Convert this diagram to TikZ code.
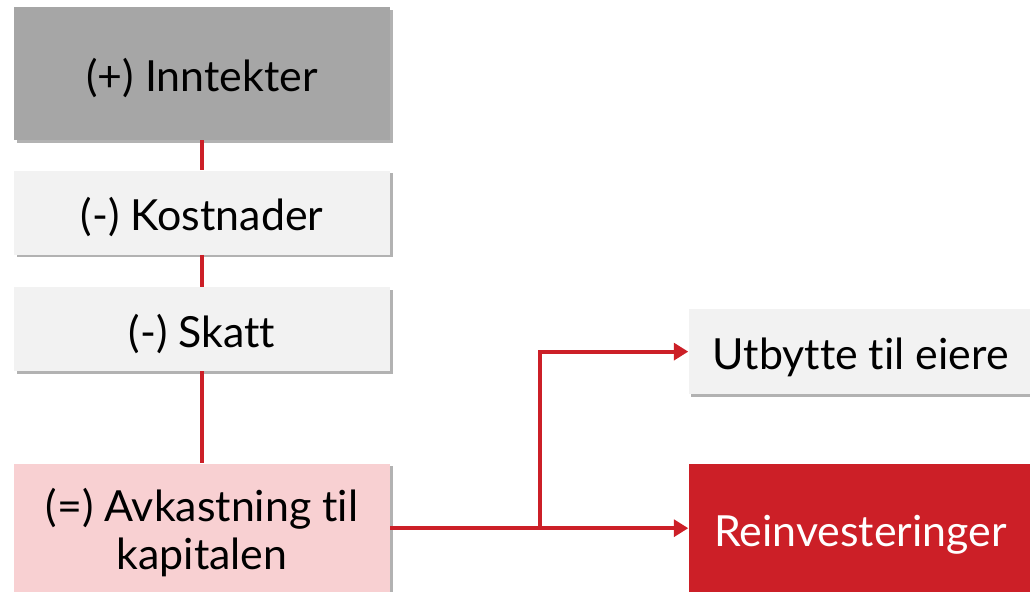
\documentclass[tikz,border=0pt]{standalone}
\usepackage{fontspec}
\setmainfont{Lato}[Ligatures={NoCommon}]
\usetikzlibrary{positioning,shadows,arrows.meta}

\definecolor{boxgray}{HTML}{A6A6A6}
\definecolor{boxlight}{HTML}{F2F2F2}
\definecolor{boxpink}{HTML}{F8D0D2}
\definecolor{linered}{HTML}{CC1F27}

\begin{document}
\begin{tikzpicture}[
    box/.style={rectangle, minimum width=9.4cm, minimum height=2.1cm, text centered, inner sep=0pt,
        font=\fontsize{30.5}{34}\selectfont,
        drop shadow={shadow xshift=0.07cm, shadow yshift=-0.07cm, fill=black, opacity=0.3}},
    line/.style={text height=33.2pt, text depth=7.6pt},
    total/.style={box, line, fill=boxgray, minimum height=3.325cm},
    item/.style={box, line, fill=boxlight},
    result/.style={box, fill=boxpink, minimum height=3.225cm, align=center},
    payout/.style={box, line, fill=boxlight, minimum width=8.6cm, minimum height=2.125cm},
    reinvest/.style={box, line, fill=linered, text=white, minimum width=8.6cm, minimum height=3.225cm},
    link/.style={draw=linered, line width=2.8pt},
    flow/.style={link, -{Triangle[length=0.36cm, width=0.42cm]}}]

\useasboundingbox (0,0) rectangle (25.75,-14.775);
\clip (0,0) rectangle (25.75,-14.775);

% Left column
\node[total] (inntekter) at (5.05,-1.8375) {(+) Inntekter};
\node[item, below=0.75cm of inntekter] (kostnader) {(-) Kostnader};
\node[item, below=0.8cm of kostnader] (skatt) {(-) Skatt};
\node[result, below=2.3cm of skatt] (avkastning) {\rule{0pt}{30pt}(=) Avkastning til\\kapitalen};

% Right column
\node[reinvest, right=7.45cm of avkastning] (reinvest) {Reinvesteringer};
\node[payout, above=1.725cm of reinvest] (utbytte) {Utbytte til eiere};
\coordinate (split) at ([xshift=3.75cm]avkastning.east);

% Connectors
\draw[link] (inntekter) -- (kostnader);
\draw[link] (kostnader) -- (skatt);
\draw[link] (skatt) -- (avkastning);
\draw[link] (avkastning.east) -- (split);
\draw[flow] (split) |- (utbytte.west);
\draw[flow] (split) -- (reinvest.west);

\end{tikzpicture}
\end{document}
